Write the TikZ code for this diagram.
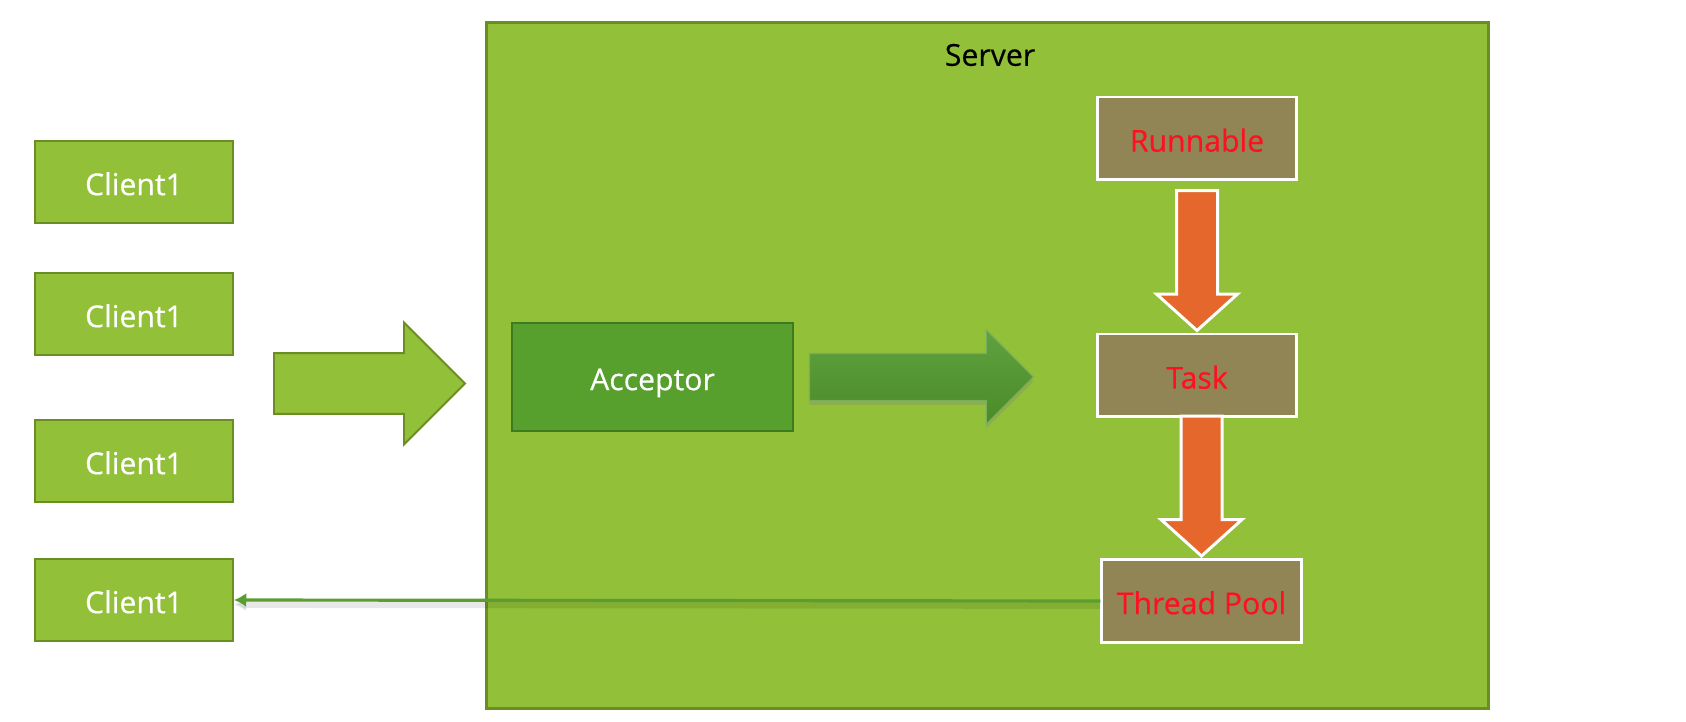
\documentclass[tikz,border=0pt]{standalone}
\usepackage{fontspec}
\setmainfont{Open Sans}[FakeBold=0.4]
\usepackage{tikz}
\usetikzlibrary{shapes,arrows.meta,shadows}
\definecolor{servergreen}{HTML}{92C038}
\definecolor{borderolive}{HTML}{6B8E23}
\definecolor{acceptgreen}{HTML}{57A02E}
\definecolor{acceptborder}{HTML}{3E7A1E}
\definecolor{taskbrown}{HTML}{918556}
\definecolor{labelred}{HTML}{FF1020}
\definecolor{flowarrow}{HTML}{E5672C}
\definecolor{passtop}{HTML}{5FA141}
\definecolor{passbottom}{HTML}{4B8B27}
\definecolor{returngreen}{HTML}{5A9E32}
\tikzset{
  box/.style={rectangle, inner sep=0pt, font=\fontsize{17.2}{20}\selectfont, text height=15.5pt, text depth=0.5pt},
  client/.style={box, fill=servergreen, draw=borderolive, line width=1.1pt, text=white, minimum width=3.96cm, minimum height=1.64cm},
  worker/.style={box, fill=taskbrown, draw=white, line width=1.7pt, text=labelred, minimum width=3.99cm, minimum height=1.66cm},
  bigarrow/.style={single arrow, inner sep=0pt, shape border uses incircle=false},
  taskarrow/.style={bigarrow, fill=flowarrow, draw=white, line width=1.7pt, shape border rotate=270,
    text width=0.76cm, text height=0.38cm, text depth=0.38cm,
    minimum height=2.8cm, minimum width=1.56cm, single arrow head extend=0.4cm, single arrow tip angle=96},
  returnline/.style={draw=returngreen, line width=1.8pt, -{Latex[length=7pt, width=8pt]},
    preaction={draw=black, opacity=0.09, line width=4pt, transform canvas={yshift=-2.5pt}}}
}
\newcommand{\clientnode}[2] {\node at (#1) (#2) [client] {Client1};}
\newcommand{\workernode}[3] {\node at (#1) (#2) [worker] {#3};}

\begin{document}
\begin{tikzpicture}[x=0.02cm, y=-0.02cm]
\useasboundingbox (0,0) rectangle (1686,722);

% server frame
\node at (987.5,365.5) (server) [rectangle, fill=servergreen, draw=borderolive, line width=1.7pt, minimum width=20.06cm, minimum height=13.74cm] {};
\node at (990,55) (serverlabel) [font=\fontsize{17.2}{20}\selectfont, inner sep=0pt] {Server};

\clientnode {134,182} {client1};
\clientnode {134,314} {client2};
\clientnode {134,461} {client3};
\clientnode {134,600} {client4};

\node at (273,383.5) (inflow) [bigarrow, anchor=tail, fill=servergreen, draw=borderolive, line width=1.1pt,
  text height=0.59cm, text depth=0.59cm,
  minimum height=3.82cm, minimum width=2.4cm, single arrow head extend=0.61cm, single arrow tip angle=90] {};

\node at (652.5,377) (acceptor) [box, fill=acceptgreen, draw=acceptborder, line width=1.1pt, text=white, minimum width=5.62cm, minimum height=2.16cm] {Acceptor};

\node at ([xshift=0.3cm]acceptor.east) (handoff) [bigarrow, anchor=tail, top color=passtop, bottom color=passbottom, draw=passtop!85!white, line width=0.6pt,
  text height=0.46cm, text depth=0.46cm,
  minimum height=4.48cm, minimum width=1.86cm, single arrow head extend=0.47cm, single arrow tip angle=90,
  drop shadow={opacity=0.25, shadow xshift=0pt, shadow yshift=-2.5pt}] {};

\workernode {1197,138.5} {runnable} {Runnable};
\workernode {1197,375.5} {task} {Task};
\workernode {1201.5,601} {pool} {Thread Pool};

\node at (task.north) (wrap) [taskarrow, anchor=tip] {};
\node at (pool.north) (submit) [taskarrow, anchor=tip] {};

\draw [returnline] (pool.west) -- (client4.east);

%\node at (990,690) {};
\end{tikzpicture}
\end{document}
